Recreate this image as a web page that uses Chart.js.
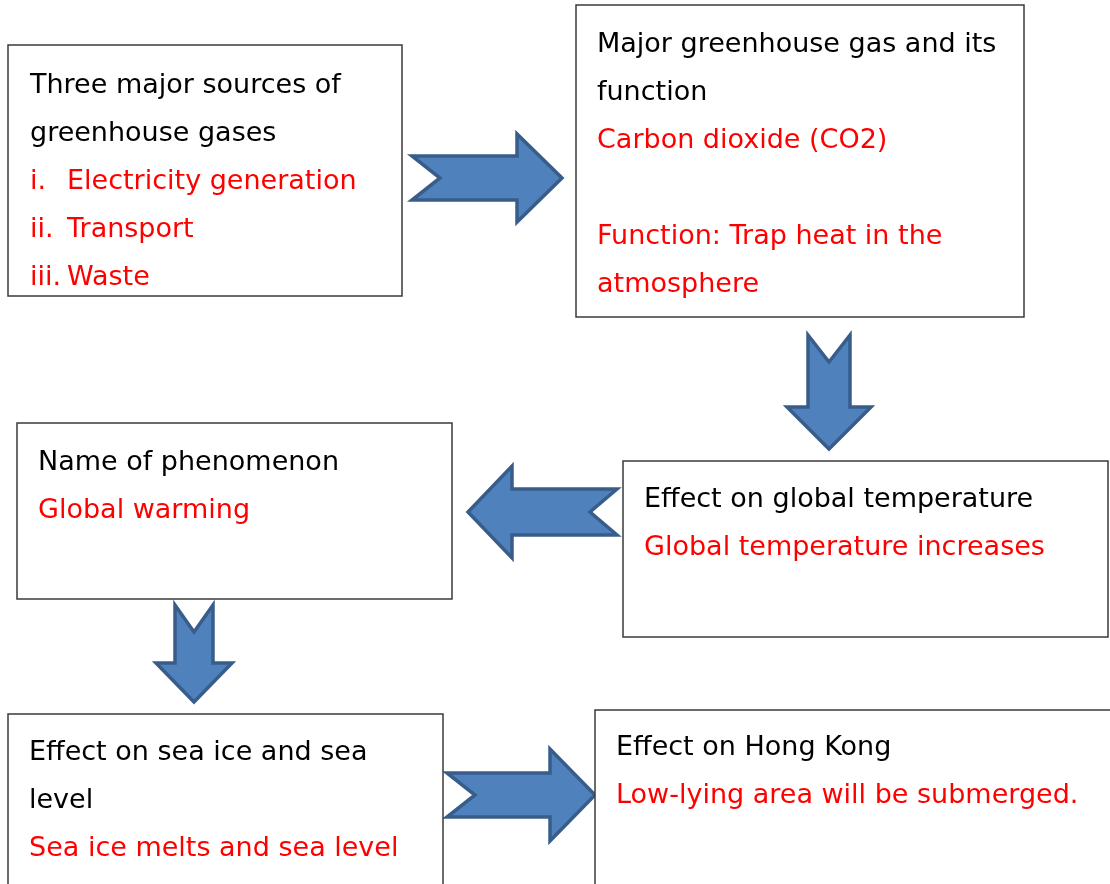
<!DOCTYPE html>
<html lang="en">
<head>
  <meta charset="UTF-8">
  <title>Greenhouse effect flow chart</title>
  <script src="https://cdn.jsdelivr.net/npm/chart.js"></script>
  <style>
    html, body { margin: 0; padding: 0; background: #fff; }
    #flow { display: block; }
  </style>
</head>
<body>
<canvas id="flow" width="1110" height="884"></canvas>

<script>
  // box contents (black question, red answer), in reading order
  const boxTitles = [
    ['Three major sources of', 'greenhouse gases'],
    ['Major greenhouse gas and its', 'function'],
    ['Effect on global temperature'],
    ['Name of phenomenon'],
    ['Effect on sea ice and sea', 'level'],
    ['Effect on Hong Kong']
  ];
  const boxAnswers = [
    ['i.\tElectricity generation', 'ii.\tTransport', 'iii.\tWaste'],
    ['Carbon dioxide (CO2)', '', 'Function: Trap heat in the', 'atmosphere'],
    ['Global temperature increases'],
    ['Global warming'],
    ['Sea ice melts and sea level'],
    ['Low-lying area will be submerged.']
  ];

  // layout (canvas units): box rect + first text baseline
  const boxRects = [
    { x0: 8,   y0: 45,  x1: 402,  y1: 296, tx: 30,  ty: 93 },
    { x0: 576, y0: 5,   x1: 1024, y1: 317, tx: 597, ty: 52 },
    { x0: 623, y0: 461, x1: 1108, y1: 637, tx: 644, ty: 507 },
    { x0: 17,  y0: 423, x1: 452,  y1: 599, tx: 38,  ty: 470 },
    { x0: 8,   y0: 714, x1: 443,  y1: 900, tx: 29,  ty: 760 },
    { x0: 595, y0: 710, x1: 1120, y1: 900, tx: 616, ty: 755 }
  ];
  const lineGap = 48;
  const listIndent = 37;

  // block arrows: from -> to along main axis, c = centre on cross axis
  const arrows = [
    { dir: 'h', from: 412, to: 562, c: 178, shaft: 22, head: 44, headLen: 45, notch: 28 },
    { dir: 'v', from: 335, to: 449, c: 829, shaft: 21, head: 42, headLen: 42, notch: 27 },
    { dir: 'h', from: 617, to: 468, c: 512, shaft: 23, head: 46, headLen: 44, notch: 27 },
    { dir: 'v', from: 605, to: 702, c: 194, shaft: 19, head: 38, headLen: 39, notch: 27 },
    { dir: 'h', from: 447, to: 595, c: 795, shaft: 22, head: 46, headLen: 45, notch: 28 }
  ];

  const FONT = '27px "Comic Sans MS", "DejaVu Sans", sans-serif';

  const diagram = {
    id: 'diagram',
    afterDraw(chart) {
      const c = chart.ctx;
      const sx = v => chart.scales.x.getPixelForValue(v);
      const sy = v => chart.scales.y.getPixelForValue(v);
      c.save();

      // arrows
      arrows.forEach(a => {
        const s = Math.sign(a.to - a.from);
        const pts = [
          [a.from, a.c - a.shaft],
          [a.to - s * a.headLen, a.c - a.shaft],
          [a.to - s * a.headLen, a.c - a.head],
          [a.to, a.c],
          [a.to - s * a.headLen, a.c + a.head],
          [a.to - s * a.headLen, a.c + a.shaft],
          [a.from, a.c + a.shaft],
          [a.from + s * a.notch, a.c]
        ];
        c.beginPath();
        pts.forEach((p, i) => {
          const px = a.dir === 'h' ? sx(p[0]) : sx(p[1]);
          const py = a.dir === 'h' ? sy(p[1]) : sy(p[0]);
          if (i === 0) c.moveTo(px, py); else c.lineTo(px, py);
        });
        c.closePath();
        c.fillStyle = '#4f81bd';
        c.fill();
        c.lineJoin = 'miter';
        c.lineWidth = 3.5;
        c.strokeStyle = '#385d8a';
        c.stroke();
      });

      // boxes
      boxRects.forEach((b, i) => {
        c.fillStyle = '#fff';
        c.fillRect(sx(b.x0), sy(b.y0), sx(b.x1) - sx(b.x0), sy(b.y1) - sy(b.y0));
        c.lineWidth = 1.5;
        c.strokeStyle = '#3a3a3a';
        c.strokeRect(sx(b.x0), sy(b.y0), sx(b.x1) - sx(b.x0), sy(b.y1) - sy(b.y0));

        c.font = FONT;
        c.textBaseline = 'alphabetic';
        c.textAlign = 'left';
        let y = b.ty;
        const lines = boxTitles[i].map(t => [t, '#000'])
          .concat(boxAnswers[i].map(t => [t, '#ff0000']));
        lines.forEach(([t, col]) => {
          c.fillStyle = col;
          const parts = t.split('\t');
          if (parts.length > 1) {
            c.fillText(parts[0], sx(b.tx), sy(y));
            c.fillText(parts[1], sx(b.tx + listIndent), sy(y));
          } else if (t) {
            c.fillText(t, sx(b.tx), sy(y));
          }
          y += lineGap;
        });
      });
      c.restore();
    }
  };

  new Chart(document.getElementById('flow').getContext('2d'), {
    type: 'scatter',
    data: { datasets: [{ data: [], pointRadius: 0 }] },
    options: {
      responsive: false,
      animation: false,
      layout: { padding: 0 },
      plugins: { legend: { display: false }, tooltip: { enabled: false } },
      scales: {
        x: { type: 'linear', min: 0, max: 1110, display: false },
        y: { type: 'linear', min: 0, max: 884, reverse: true, display: false }
      }
    },
    plugins: [diagram]
  });
</script>
</body>
</html>
